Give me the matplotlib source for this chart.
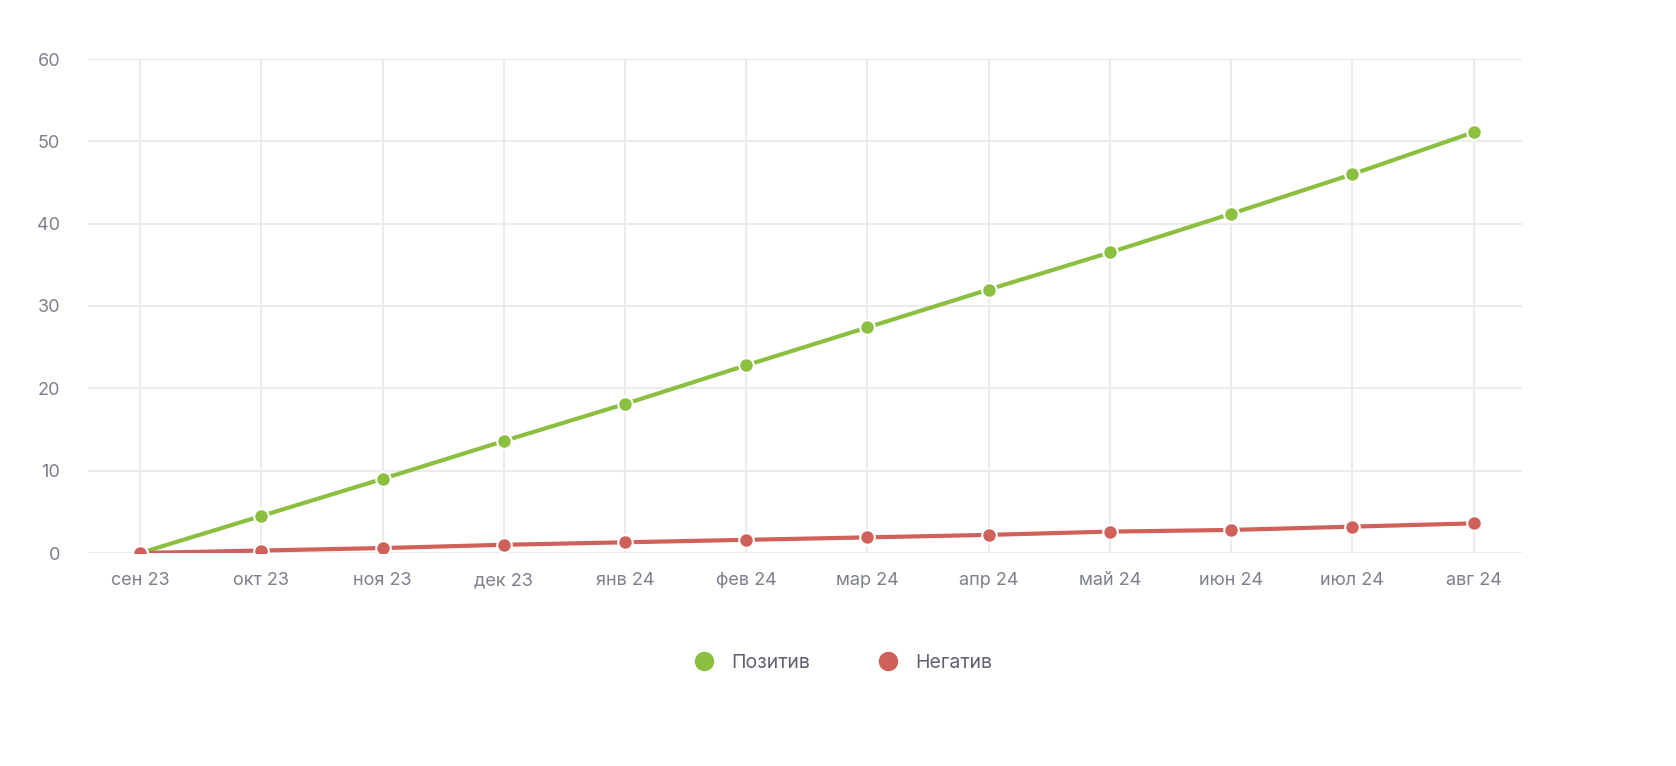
import matplotlib
matplotlib.use("Agg")
import matplotlib.pyplot as plt
from matplotlib.lines import Line2D

months = ["сен 23","окт 23","ноя 23","дек 23","янв 24","фев 24","мар 24","апр 24","май 24","июн 24","июл 24","авг 24"]
positive = [0, 4.5, 9.0, 13.6, 18.1, 22.8, 27.4, 32.0, 36.5, 41.2, 46.0, 51.1]
negative = [0, 0.3, 0.6, 1.0, 1.3, 1.6, 1.9, 2.2, 2.6, 2.8, 3.2, 3.6]

plt.rcParams['font.family'] = ['Inter', 'DejaVu Sans']
fig = plt.figure(figsize=(16.76, 7.66), dpi=100)
W, H = 1676, 766
ax = fig.add_axes([88/W, 1-553/H, (1522-88)/W, (553-59)/H])
x = list(range(len(months)))
green = "#8bbf3f"; red = "#d0605a"
for y, c in [(positive, green), (negative, red)]:
    ax.plot(x, y, color=c, lw=3, zorder=3)
    ax.scatter(x, y, s=110, color=c, edgecolor="white", linewidth=1.5, zorder=4)
ax.set_xlim(-0.43, 11.4)
ax.set_ylim(0, 60)
ax.set_yticks(range(0, 61, 10))
ax.set_xticks(x)
ax.set_xticklabels(months)
ax.grid(True, color="#ebebeb", lw=1.5)
ax.set_axisbelow(True)
for s in ax.spines.values():
    s.set_visible(False)
ax.tick_params(length=0, colors="#7d808c", labelsize=13, pad=14)
ax.tick_params(axis='y', pad=20)
handles = [Line2D([], [], marker='o', ls='', ms=13, color=green, label="Позитив"),
           Line2D([], [], marker='o', ls='', ms=13, color=red, label="Негатив")]
fig.legend(handles=handles, loc='center', bbox_to_anchor=(0.5, 1-663/H), ncol=2,
           frameon=False, fontsize=14, labelcolor="#5f6270", columnspacing=3, handletextpad=0.4)
fig.savefig("out.png", dpi=100, facecolor="white")
